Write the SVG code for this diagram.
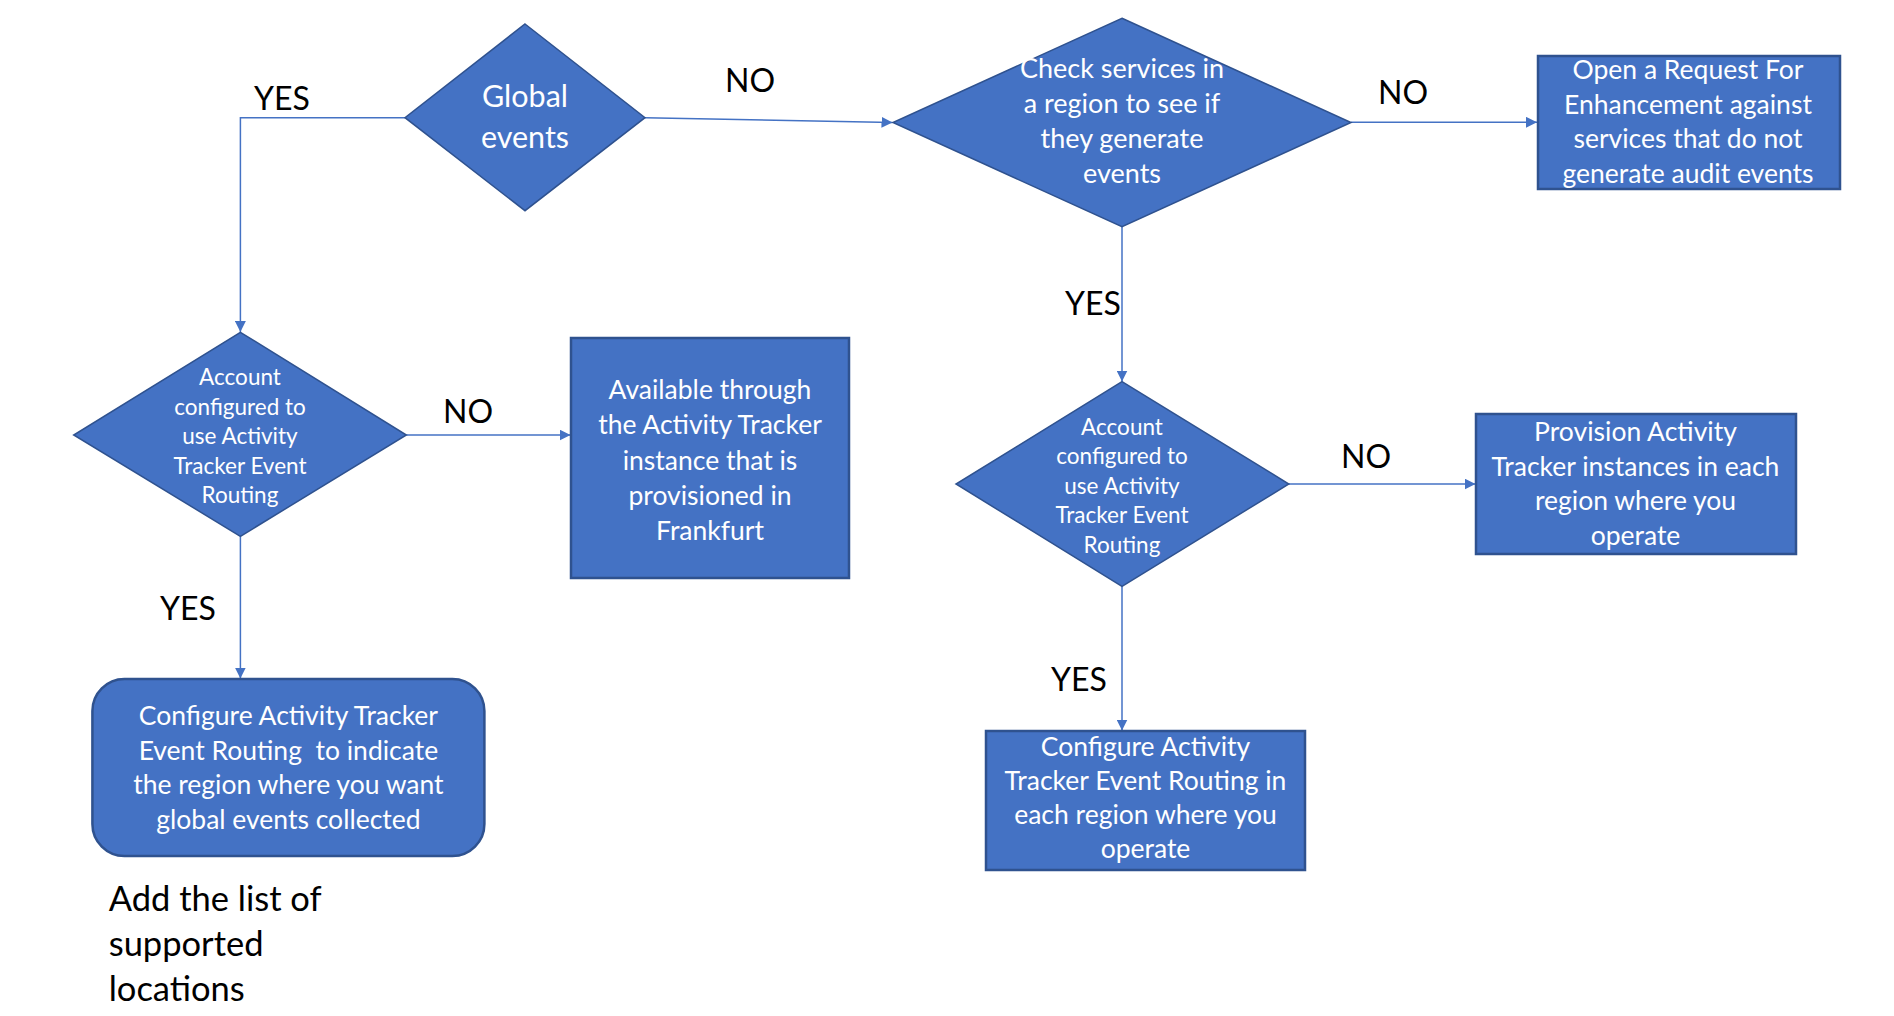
<svg xmlns="http://www.w3.org/2000/svg" width="1894" height="1016" viewBox="0 0 1894 1016">
<defs>
<marker id="arr" markerUnits="userSpaceOnUse" markerWidth="12" markerHeight="11" refX="11" refY="5.5" orient="auto">
<path d="M0,0 L11,5.5 L0,11 z" fill="#4472C4"/>
</marker>
<style>
.shape{fill:#4472C4;stroke:#2F528F;stroke-width:1.5}
.box{fill:#4472C4;stroke:#2F528F;stroke-width:2.5}
.t{font-family:Lato,"Open Sans","Liberation Sans",sans-serif;fill:#FFFFFF;text-anchor:middle}
.s22{font-size:22.5px}
.s26{font-size:26.5px}
.s27{font-size:27px}
.s30{font-size:30.5px}
.lbl{font-family:Lato,"Open Sans","Liberation Sans",sans-serif;fill:#000000;font-size:32px}
.note{font-family:Lato,"Open Sans","Liberation Sans",sans-serif;fill:#000000;font-size:34.5px}
.c{fill:none;stroke:#4472C4;stroke-width:1.5;marker-end:url(#arr)}
</style>
</defs>
<rect width="1894" height="1016" fill="#FFFFFF"/>

<g id="connectors">
<path class="c" d="M405,117.7 H240.4 V332"/>
<path class="c" d="M645,117.7 L892.5,122.5"/>
<path class="c" d="M1351,122.3 H1537"/>
<path class="c" d="M1122,226.7 V381.5"/>
<path class="c" d="M406.4,435 H570.5"/>
<path class="c" d="M240.4,536.3 V678.5"/>
<path class="c" d="M1288.8,484 H1475.5"/>
<path class="c" d="M1122,586.3 V730.5"/>
</g>

<g id="labels">
<text class="lbl" x="254" y="110">YES</text>
<text class="lbl" x="725" y="92">NO</text>
<text class="lbl" x="1378" y="104">NO</text>
<text class="lbl" x="1065" y="315">YES</text>
<text class="lbl" x="443" y="423">NO</text>
<text class="lbl" x="160" y="620">YES</text>
<text class="lbl" x="1341" y="468">NO</text>
<text class="lbl" x="1051" y="691">YES</text>
</g>

<g id="global-events">
<polygon class="shape" points="525,24 645,117.7 525,210.7 405,117.7"/>
<text class="t s30" x="525" y="107">Global</text>
<text class="t s30" x="525" y="148">events</text>
</g>

<g id="check-services">
<polygon class="shape" points="1122,18.3 1351,122.5 1122,226.7 893,122.5"/>
<text class="t s27" x="1122" y="78">Check services in</text>
<text class="t s27" x="1122" y="113">a region to see if</text>
<text class="t s27" x="1122" y="148">they generate</text>
<text class="t s27" x="1122" y="183">events</text>
</g>

<g id="open-rfe">
<rect class="box" x="1538" y="56" width="302" height="133"/>
<text class="t s26" x="1688" y="79">Open a Request For</text>
<text class="t s26" x="1688" y="113.5">Enhancement against</text>
<text class="t s26" x="1688" y="148">services that do not</text>
<text class="t s26" x="1688" y="182.5">generate audit events</text>
</g>

<g id="account-global">
<polygon class="shape" points="240.4,332.3 406.4,435 240.4,536.3 73.7,435"/>
<text class="t s22" x="240" y="385">Account</text>
<text class="t s22" x="240" y="414.5">configured to</text>
<text class="t s22" x="240" y="444">use Activity</text>
<text class="t s22" x="240" y="473.5">Tracker Event</text>
<text class="t s22" x="240" y="503">Routing</text>
</g>

<g id="frankfurt">
<rect class="box" x="571" y="338" width="278" height="240"/>
<text class="t s26" x="710" y="398.5">Available through</text>
<text class="t s26" x="710" y="434">the Activity Tracker</text>
<text class="t s26" x="710" y="469.5">instance that is</text>
<text class="t s26" x="710" y="505">provisioned in</text>
<text class="t s26" x="710" y="540">Frankfurt</text>
</g>

<g id="configure-global">
<rect class="box" x="92.4" y="679" width="392" height="177" rx="32" ry="32"/>
<text class="t s26" x="288.4" y="725">Configure Activity Tracker</text>
<text class="t s26" x="288.4" y="759.5" xml:space="preserve">Event Routing  to indicate</text>
<text class="t s26" x="288.4" y="794">the region where you want</text>
<text class="t s26" x="288.4" y="828.5">global events collected</text>
</g>

<g id="account-regional">
<polygon class="shape" points="1122,381.7 1288.8,484 1122,586.3 956,484"/>
<text class="t s22" x="1122" y="435">Account</text>
<text class="t s22" x="1122" y="464">configured to</text>
<text class="t s22" x="1122" y="493.5">use Activity</text>
<text class="t s22" x="1122" y="523">Tracker Event</text>
<text class="t s22" x="1122" y="552.5">Routing</text>
</g>

<g id="provision">
<rect class="box" x="1476" y="414" width="320" height="140"/>
<text class="t s26" x="1635.5" y="441">Provision Activity</text>
<text class="t s26" x="1635.5" y="475.5">Tracker instances in each</text>
<text class="t s26" x="1635.5" y="510">region where you</text>
<text class="t s26" x="1635.5" y="544.5">operate</text>
</g>

<g id="configure-regional">
<rect class="box" x="986" y="731" width="319" height="139"/>
<text class="t s26" x="1145.5" y="756">Configure Activity</text>
<text class="t s26" x="1145.5" y="790">Tracker Event Routing in</text>
<text class="t s26" x="1145.5" y="824">each region where you</text>
<text class="t s26" x="1145.5" y="858">operate</text>
</g>

<g id="note">
<text class="note" x="108.7" y="911">Add the list of</text>
<text class="note" x="108.7" y="956">supported</text>
<text class="note" x="108.7" y="1001">locations</text>
</g>
</svg>
